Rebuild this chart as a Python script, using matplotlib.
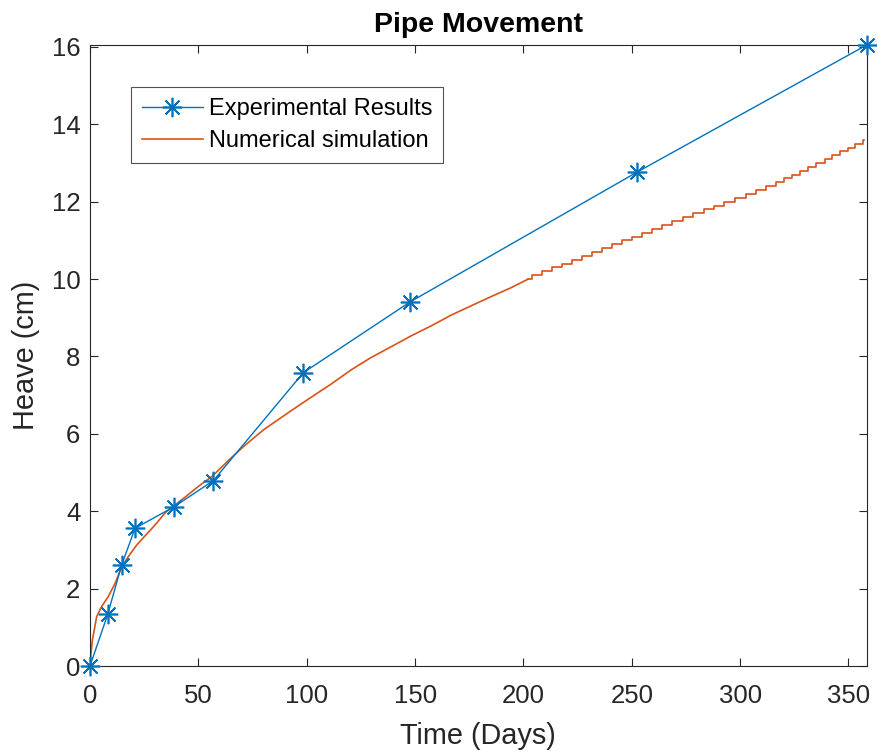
import numpy as np
import matplotlib
matplotlib.use("Agg")
import matplotlib.pyplot as plt

plt.rcParams['font.family'] = ['Liberation Sans', 'DejaVu Sans']

# Experimental results
exp_days = [0, 8.2, 14.6, 20.8, 38.9, 56.9, 98.4, 147.7, 252.6, 358.4]
exp_heave = [0, 1.34, 2.61, 3.56, 4.12, 4.79, 7.58, 9.41, 12.77, 16.05]

# Numerical simulation (smooth part)
sim_days = [0, 0.5, 1.1, 3.1, 5.4, 8.5, 11.6, 14.7, 17.7, 21.6, 25.5, 30.1, 34.7,
            39.4, 44.0, 50.2, 56.3, 64.8, 71.0, 80.2, 92.6, 101.9, 111.1, 120.4,
            129.6, 138.9, 148.1, 157.4, 166.7, 175.9, 185.2, 194.4, 202.2]
sim_heave = [0, 0.35, 0.67, 1.28, 1.54, 1.80, 2.14, 2.57, 2.83, 3.13, 3.37, 3.65, 3.96,
             4.17, 4.37, 4.65, 4.90, 5.36, 5.68, 6.11, 6.59, 6.94, 7.28, 7.65,
             7.97, 8.25, 8.53, 8.79, 9.07, 9.31, 9.55, 9.78, 10.0]

# Numerical simulation (stepped part after ~200 days)
step_days = [202.2, 203.8, 208.4, 213.1, 217.7, 222.3, 226.9, 231.5, 236.1, 241.0, 245.6,
             250.2, 254.9, 259.5, 264.1, 268.7, 273.6, 278.2, 283.2, 287.8,
             292.7, 297.6, 302.6, 307.2, 311.8, 316.4, 320.1, 324.1, 327.8,
             331.5, 335.2, 339.2, 342.5, 346.2, 349.6, 353.0, 356.6, 357.3]
step_heave = [10.0, 10.1, 10.2, 10.3, 10.4, 10.5, 10.6, 10.7, 10.8, 10.9, 11.0,
              11.1, 11.2, 11.3, 11.4, 11.5, 11.6, 11.7, 11.8, 11.9,
              12.0, 12.1, 12.2, 12.3, 12.4, 12.5, 12.6, 12.7, 12.8,
              12.9, 13.0, 13.1, 13.2, 13.3, 13.4, 13.5, 13.6, 13.6]

x_ticks = [0, 50, 100, 150, 200, 250, 300, 350]
y_ticks = [0, 2, 4, 6, 8, 10, 12, 14, 16]

blue = '#0072BD'
orange = '#D95319'
dark = '#262626'

fig = plt.figure(figsize=(8.77, 7.56), dpi=100)
ax = fig.add_axes([90/877, 1-666/756, (866.7-90)/877, (666-45)/756])

asterisk = (8, 2, 0)
ax.plot(exp_days, exp_heave, color=blue, lw=1.0, marker=asterisk, markersize=14,
        markeredgewidth=1.2, markeredgecolor=blue, label='Experimental Results',
        clip_on=False, zorder=3)
ax.plot(sim_days, sim_heave, color=orange, lw=1.2, label='Numerical simulation', zorder=2)
ax.plot(step_days, step_heave, color=orange, lw=1.2, drawstyle='steps-post', zorder=2)

ax.set_xlim(0, 358.4)
ax.set_ylim(0, 16.05)
ax.set_xticks(x_ticks)
ax.set_yticks(y_ticks)

for s in ax.spines.values():
    s.set_color(dark)
    s.set_linewidth(0.8)

ax.tick_params(axis='both', direction='in', top=True, right=True, length=6,
               width=0.8, color=dark, labelcolor=dark, labelsize=18.5)
ax.tick_params(axis='x', pad=13)
ax.tick_params(axis='y', pad=7)

ax.set_xlabel('Time (Days)', fontsize=20.8, color=dark, labelpad=10)
ax.set_ylabel('Heave (cm)', fontsize=20.8, color=dark, labelpad=8)
ax.set_title('Pipe Movement', fontsize=20.5, fontweight='bold', color='black', pad=9.6)

leg = ax.legend(loc='upper left', bbox_to_anchor=(0.053, 0.932), fontsize=17,
                frameon=True, fancybox=False, handlelength=2.6, borderpad=0.45,
                labelspacing=0.45, handletextpad=0.25, borderaxespad=0)
leg.get_frame().set_edgecolor(dark)
leg.get_frame().set_linewidth(0.8)

fig.savefig('out.png', dpi=100)
